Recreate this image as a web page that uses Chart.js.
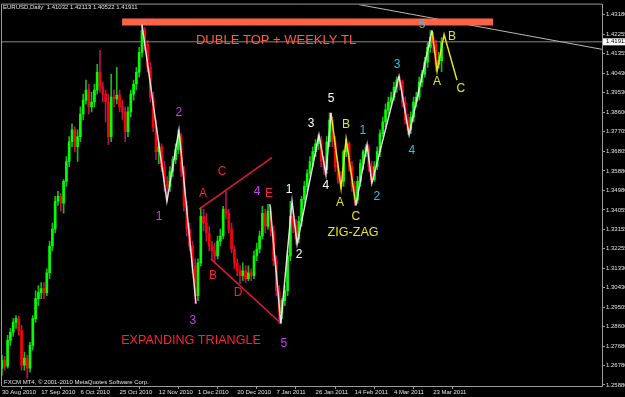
<!DOCTYPE html>
<html>
<head>
<meta charset="utf-8">
<title>EURUSD Daily</title>
<script src="https://cdn.jsdelivr.net/npm/chart.js@4.4.1/dist/chart.umd.min.js"></script>
<style>
  html, body { margin: 0; padding: 0; background: #000; }
  #wrap { width: 625px; height: 397px; }
</style>
</head>
<body>
<div id="wrap"><canvas id="eurusdChart" width="625" height="397"></canvas></div>
<script>
// daily EURUSD bars, 30 Aug 2010 .. 28 Mar 2011 (bar index 0..157)
const opens = [
  1.2666, 1.2704, 1.2676, 1.2796, 1.2834, 1.2880, 1.2898, 1.2843, 1.2680, 1.2713,
  1.2666, 1.2773, 1.2898, 1.2991, 1.3019, 1.3038, 1.3019, 1.3112, 1.3237, 1.3316,
  1.3446, 1.3469, 1.3437, 1.3539, 1.3632, 1.3724, 1.3780, 1.3701, 1.3748, 1.3854,
  1.3919, 1.3966, 1.3887, 1.3910, 1.3966, 1.4049, 1.3980, 1.3947, 1.3910, 1.3748,
  1.3933, 1.3924, 1.3942, 1.3887, 1.3864, 1.3771, 1.3864, 1.3947, 1.3994, 1.4049,
  1.4142, 1.4244, 1.4179, 1.4072, 1.3933, 1.3794, 1.3678, 1.3701, 1.3608, 1.3539,
  1.3516, 1.3585, 1.3641, 1.3687, 1.3748, 1.3585, 1.3423, 1.3316, 1.3237, 1.3144,
  1.3005, 1.3158, 1.3376, 1.3344, 1.3298, 1.3237, 1.3214, 1.3191, 1.3260, 1.3284,
  1.3409, 1.3390, 1.3316, 1.3223, 1.3158, 1.3121, 1.3098, 1.3121, 1.3084, 1.3112,
  1.3098, 1.3191, 1.3223, 1.3284, 1.3390, 1.3330, 1.3400, 1.3307, 1.3168, 1.3028,
  1.2926, 1.2982, 1.3028, 1.3191, 1.3376, 1.3330, 1.3270, 1.3353, 1.3455, 1.3516,
  1.3576, 1.3632, 1.3678, 1.3715, 1.3734, 1.3632, 1.3594, 1.3724, 1.3826, 1.3724,
  1.3608, 1.3548, 1.3539, 1.3678, 1.3715, 1.3608, 1.3516, 1.3455, 1.3539, 1.3622,
  1.3678, 1.3697, 1.3608, 1.3548, 1.3608, 1.3678, 1.3762, 1.3817, 1.3873, 1.3910,
  1.3933, 1.3980, 1.4012, 1.4003, 1.3910, 1.3826, 1.3780, 1.3840, 1.3910, 1.3933,
  1.4003, 1.4040, 1.4096, 1.4165, 1.4212, 1.4179, 1.4086, 1.41032
];
const highs = [
  1.2727, 1.2722, 1.2820, 1.2852, 1.2898, 1.2912, 1.2908, 1.2866, 1.2741, 1.2727,
  1.2787, 1.2912, 1.3028, 1.3052, 1.3066, 1.3066, 1.3130, 1.3260, 1.3344, 1.3469,
  1.3492, 1.3483, 1.3548, 1.3655, 1.3748, 1.3808, 1.3794, 1.3780, 1.3887, 1.3947,
  1.4012, 1.3994, 1.3956, 1.3994, 1.4086, 1.4151, 1.4003, 1.3966, 1.3947, 1.4040,
  1.3966, 1.4072, 1.3966, 1.3919, 1.3887, 1.3887, 1.3966, 1.4012, 1.4072, 1.4165,
  1.4272, 1.4258, 1.4198, 1.4096, 1.3956, 1.3826, 1.3724, 1.3715, 1.3632, 1.3562,
  1.3608, 1.3655, 1.3715, 1.3780, 1.3762, 1.3608, 1.3446, 1.3344, 1.3260, 1.3177,
  1.3177, 1.3418, 1.3409, 1.3390, 1.3330, 1.3260, 1.3251, 1.3284, 1.3316, 1.3423,
  1.3492, 1.3409, 1.3344, 1.3237, 1.3177, 1.3144, 1.3158, 1.3144, 1.3144, 1.3130,
  1.3214, 1.3251, 1.3307, 1.3423, 1.3409, 1.3432, 1.3418, 1.3330, 1.3191, 1.3052,
  1.2991, 1.3052, 1.3214, 1.3446, 1.3400, 1.3362, 1.3376, 1.3469, 1.3539, 1.3594,
  1.3655, 1.3701, 1.3734, 1.3757, 1.3748, 1.3655, 1.3748, 1.3859, 1.3840, 1.3748,
  1.3632, 1.3585, 1.3687, 1.3738, 1.3724, 1.3632, 1.3539, 1.3562, 1.3641, 1.3687,
  1.3710, 1.3710, 1.3632, 1.3632, 1.3701, 1.3780, 1.3840, 1.3901, 1.3933, 1.3956,
  1.4003, 1.4026, 1.4031, 1.4012, 1.3933, 1.3854, 1.3864, 1.3933, 1.3956, 1.4026,
  1.4058, 1.4119, 1.4188, 1.4244, 1.4235, 1.4198, 1.4142, 1.42113
];
const lows = [
  1.2634, 1.2657, 1.2666, 1.2773, 1.2815, 1.2852, 1.2820, 1.2657, 1.2657, 1.2620,
  1.2648, 1.2750, 1.2880, 1.2959, 1.2991, 1.2991, 1.3005, 1.3084, 1.3214, 1.3298,
  1.3427, 1.3400, 1.3390, 1.3516, 1.3608, 1.3701, 1.3678, 1.3632, 1.3724, 1.3826,
  1.3901, 1.3854, 1.3864, 1.3887, 1.3947, 1.3956, 1.3910, 1.3817, 1.3710, 1.3724,
  1.3887, 1.3901, 1.3864, 1.3826, 1.3724, 1.3748, 1.3840, 1.3919, 1.3966, 1.4026,
  1.4119, 1.4151, 1.4049, 1.3910, 1.3771, 1.3641, 1.3622, 1.3585, 1.3492, 1.3446,
  1.3492, 1.3562, 1.3622, 1.3669, 1.3562, 1.3400, 1.3284, 1.3214, 1.3112, 1.2968,
  1.2982, 1.3144, 1.3307, 1.3260, 1.3214, 1.3177, 1.3158, 1.3177, 1.3237, 1.3270,
  1.3362, 1.3298, 1.3205, 1.3130, 1.3098, 1.3061, 1.3075, 1.3066, 1.3075, 1.3075,
  1.3084, 1.3168, 1.3205, 1.3270, 1.3298, 1.3316, 1.3284, 1.3144, 1.3005, 1.2875,
  1.2898, 1.2959, 1.3005, 1.3168, 1.3298, 1.3246, 1.3251, 1.3330, 1.3437, 1.3492,
  1.3562, 1.3608, 1.3655, 1.3687, 1.3608, 1.3571, 1.3576, 1.3701, 1.3701, 1.3585,
  1.3530, 1.3506, 1.3516, 1.3655, 1.3585, 1.3492, 1.3427, 1.3437, 1.3516, 1.3594,
  1.3655, 1.3585, 1.3530, 1.3539, 1.3594, 1.3655, 1.3748, 1.3794, 1.3854, 1.3887,
  1.3919, 1.3956, 1.3966, 1.3887, 1.3808, 1.3757, 1.3762, 1.3817, 1.3887, 1.3919,
  1.3980, 1.4026, 1.4072, 1.4142, 1.4142, 1.4054, 1.4068, 1.40522
];
const closes = [
  1.2704, 1.2676, 1.2796, 1.2834, 1.2880, 1.2898, 1.2843, 1.2680, 1.2713, 1.2666,
  1.2773, 1.2898, 1.2991, 1.3019, 1.3038, 1.3019, 1.3112, 1.3237, 1.3316, 1.3446,
  1.3469, 1.3437, 1.3539, 1.3632, 1.3724, 1.3780, 1.3701, 1.3748, 1.3854, 1.3919,
  1.3966, 1.3887, 1.3910, 1.3966, 1.4049, 1.3980, 1.3947, 1.3910, 1.3748, 1.3933,
  1.3924, 1.3942, 1.3887, 1.3864, 1.3771, 1.3864, 1.3947, 1.3994, 1.4049, 1.4142,
  1.4244, 1.4179, 1.4072, 1.3933, 1.3794, 1.3678, 1.3701, 1.3608, 1.3539, 1.3516,
  1.3585, 1.3641, 1.3687, 1.3748, 1.3585, 1.3423, 1.3316, 1.3237, 1.3144, 1.3005,
  1.3158, 1.3376, 1.3344, 1.3298, 1.3237, 1.3214, 1.3191, 1.3260, 1.3284, 1.3409,
  1.3390, 1.3316, 1.3223, 1.3158, 1.3121, 1.3098, 1.3121, 1.3084, 1.3112, 1.3098,
  1.3191, 1.3223, 1.3284, 1.3390, 1.3330, 1.3400, 1.3307, 1.3168, 1.3028, 1.2926,
  1.2982, 1.3028, 1.3191, 1.3376, 1.3330, 1.3270, 1.3353, 1.3455, 1.3516, 1.3576,
  1.3632, 1.3678, 1.3715, 1.3734, 1.3632, 1.3594, 1.3724, 1.3826, 1.3724, 1.3608,
  1.3548, 1.3539, 1.3678, 1.3715, 1.3608, 1.3516, 1.3455, 1.3539, 1.3622, 1.3678,
  1.3697, 1.3608, 1.3548, 1.3608, 1.3678, 1.3762, 1.3817, 1.3873, 1.3910, 1.3933,
  1.3980, 1.4012, 1.4003, 1.3910, 1.3826, 1.3780, 1.3840, 1.3910, 1.3933, 1.4003,
  1.4040, 1.4096, 1.4165, 1.4212, 1.4179, 1.4086, 1.41032, 1.41911
];

// axis ticks
const priceTicks = [1.2588, 1.2678, 1.2768, 1.286, 1.29505, 1.3043, 1.3133, 1.32255, 1.33155, 1.34055,
  1.3498, 1.3588, 1.36805, 1.37705, 1.386, 1.3953, 1.4043, 1.41355, 1.42255, 1.4318];
const dateTicks = [0, 14, 28, 42, 56, 70, 84, 98, 112, 126, 140, 154];
const dateLabels = ["30 Aug 2010", "17 Sep 2010", "6 Oct 2010", "25 Oct 2010", "12 Nov 2010", "1 Dec 2010",
  "20 Dec 2010", "7 Jan 2011", "26 Jan 2011", "14 Feb 2011", "4 Mar 2011", "23 Mar 2011"];

// wave counts drawn on the chart: [bar index, price]
const waveDown = [[50, 1.4272], [58.9, 1.3446], [63.2, 1.378], [69.3, 1.2968]];
const waveE5 = [[95.7, 1.3432], [99.6, 1.2875]];
const waveUp1 = [[99.6, 1.2875], [103.6, 1.3446], [105.4, 1.3246], [113.2, 1.3757], [115.7, 1.3571], [117.5, 1.3859]];
const zigZag = [[117.5, 1.3859], [121.1, 1.3506], [122.9, 1.3738], [126.4, 1.3427]];
const waveUp2 = [[126.4, 1.3427], [130.4, 1.371], [132.1, 1.353], [141.8, 1.4031], [145.4, 1.3757], [153.6, 1.4244]];
const abcTop = [[153.6, 1.4244], [155.4, 1.4054], [157.9, 1.4225], [162.5, 1.4012]];
const triUpper = [[70.4, 1.3409], [96.4, 1.365]];
const triLower = [[74.6, 1.3177], [99.3, 1.288]];
const doubleTop = [[42.9, 1.4284], [175.4, 1.4284]];
const weeklyTL = [[127.5, 1.4365], [214.3, 1.4156]];
const lastPrice = 1.41911;

// labels: [text, bar index, price]
const magentaLabels = [["1", 56.1, 1.3376], ["2", 63.2, 1.3859], ["3", 68.2, 1.2889], ["4", 91.1, 1.3492], ["5", 100.7, 1.2783]];
const redLabels = [["A", 71.8, 1.3483], ["B", 75.4, 1.3098], ["C", 78.6, 1.3585], ["D", 84.3, 1.3019], ["E", 95.4, 1.3483]];
const whiteLabels = [["1", 102.5, 1.3502], ["2", 106.1, 1.3196], ["3", 110.4, 1.3808], ["4", 115.7, 1.352], ["5", 117.5, 1.3924]];
const yellowLabels = [["A", 120.7, 1.3441], ["B", 122.9, 1.3803], ["C", 126.4, 1.3372],
  ["A", 155.4, 1.4003], ["B", 160.7, 1.4216], ["C", 163.9, 1.397]];
const cyanLabels = [["1", 128.9, 1.3775], ["2", 133.9, 1.3469], ["3", 141.1, 1.4082], ["4", 146.4, 1.3683], ["5", 150, 1.4272]];
const captions = [
  ["DUBLE TOP + WEEKLY TL", 97.9, 1.4196, "#ff5a3c", 13],
  ["EXPANDING TRIANGLE", 67.5, 1.2796, "#ff1f3d", 12.6],
  ["ZIG-ZAG", 125.4, 1.3298, "#e6e61e", 12.6],
];

const FONT = '"Liberation Sans", Arial, sans-serif';
const toXY = (pts) => pts.map(([x, y]) => ({ x, y }));

const isUp = closes.map((c, i) => c >= opens[i]);
const wickData = closes.map((c, i) => ({ x: i, y: [lows[i], highs[i]] }));
const bodyData = closes.map((c, i) => ({ x: i, y: [opens[i], c] }));

const lineSet = (pts, color, width) => ({
  type: "line",
  data: toXY(pts),
  borderColor: color,
  borderWidth: width,
  pointRadius: 0,
  tension: 0,
  fill: false,
  order: 0,
});

const overlayPlugin = {
  id: "overlay",
  beforeDraw(chart) {
    const { ctx, width, height } = chart;
    ctx.save();
    ctx.fillStyle = "#000";
    ctx.fillRect(0, 0, width, height);
    ctx.restore();
  },
  afterDraw(chart) {
    const { ctx, chartArea } = chart;
    const xs = chart.scales.x;
    const ys = chart.scales.y;
    ctx.save();

    // frame top + left
    ctx.strokeStyle = "#9a9a9a";
    ctx.lineWidth = 1;
    ctx.beginPath();
    ctx.moveTo(chartArea.left - 0.5, chartArea.bottom);
    ctx.lineTo(chartArea.left - 0.5, chartArea.top - 0.5);
    ctx.lineTo(chartArea.right, chartArea.top - 0.5);
    ctx.stroke();

    ctx.textAlign = "center";
    ctx.textBaseline = "middle";
    const drawLabels = (list, color, size) => {
      ctx.fillStyle = color;
      ctx.font = `${size}px ${FONT}`;
      list.forEach(([t, i, p]) => ctx.fillText(t, xs.getPixelForValue(i), ys.getPixelForValue(p)));
    };
    drawLabels(magentaLabels, "#c93cf5", 12);
    drawLabels(redLabels, "#f0203a", 12);
    drawLabels(whiteLabels, "#ffffff", 12);
    drawLabels(yellowLabels, "#e6e61e", 12);
    drawLabels(cyanLabels, "#35bfe0", 12);
    captions.forEach(([t, i, p, color, size]) => drawLabels([[t, i, p]], color, size));

    // header + copyright
    ctx.textAlign = "left";
    ctx.fillStyle = "#e0e0e0";
    ctx.font = `6px ${FONT}`;
    ctx.fillText("EURUSD,Daily  1.41032 1.42113 1.40522 1.41911", 3, 7);
    ctx.fillText("FXCM MT4, \u00a9 2001-2010 MetaQuotes Software Corp.", 4, 382);

    // current price box on the axis
    const py = ys.getPixelForValue(lastPrice);
    ctx.fillStyle = "#ffffff";
    ctx.fillRect(chartArea.right + 1, py - 3.5, 24, 7);
    ctx.fillStyle = "#000";
    ctx.fillText(lastPrice.toFixed(5), chartArea.right + 4, py);
    ctx.restore();
  },
};

const ctx = document.getElementById("eurusdChart").getContext("2d");
new Chart(ctx, {
  type: "bar",
  data: {
    datasets: [
      lineSet(waveDown, "rgba(235,235,235,0.95)", 1.5),
      lineSet(waveE5, "rgba(235,235,235,0.95)", 1.5),
      lineSet(waveUp1, "rgba(235,235,235,0.95)", 1.5),
      lineSet(waveUp2, "rgba(235,235,235,0.95)", 1.5),
      lineSet(zigZag, "#e6e61e", 1.5),
      lineSet(abcTop, "#e6e61e", 1.5),
      lineSet(triUpper, "#e01a35", 1.5),
      lineSet(triLower, "#e01a35", 1.5),
      lineSet(doubleTop, "#ff6347", 7),
      lineSet(weeklyTL, "#b8b8b8", 1),
      lineSet([[0, lastPrice], [214.3, lastPrice]], "#8a8a8a", 1),
      {
        label: "wick",
        data: wickData,
        backgroundColor: isUp.map((u) => (u ? "#1fb51f" : "#b3125a")),
        barThickness: 1,
        grouped: false,
        order: 2,
      },
      {
        label: "body",
        data: bodyData,
        backgroundColor: isUp.map((u) => (u ? "#00ff00" : "#ff0000")),
        barThickness: 2,
        minBarLength: 1,
        grouped: false,
        order: 1,
      },
    ],
  },
  options: {
    responsive: false,
    animation: false,
    devicePixelRatio: 1,
    layout: { padding: { left: 2, top: 2, right: 0, bottom: 0 } },
    plugins: { legend: { display: false }, tooltip: { enabled: false } },
    scales: {
      x: {
        type: "linear",
        min: 0,
        max: 214.3,
        offset: false,
        afterBuildTicks: (scale) => {
          scale.ticks = dateTicks.map((v) => ({ value: v }));
        },
        afterFit: (scale) => {
          scale.height = 11;
        },
        grid: { drawOnChartArea: false, drawTicks: true, tickLength: 3, color: "#9a9a9a" },
        border: { color: "#9a9a9a" },
        ticks: {
          autoSkip: false,
          maxRotation: 0,
          align: "start",
          padding: 0,
          color: "#e0e0e0",
          font: { family: FONT, size: 6 },
          callback: (v) => dateLabels[dateTicks.indexOf(v)] || "",
        },
      },
      y: {
        position: "right",
        min: 1.2583,
        max: 1.4365,
        afterBuildTicks: (scale) => {
          scale.ticks = priceTicks.map((v) => ({ value: v }));
        },
        afterFit: (scale) => {
          scale.width = 23;
        },
        grid: { drawOnChartArea: false, drawTicks: true, tickLength: 3, color: "#9a9a9a" },
        border: { color: "#9a9a9a" },
        ticks: {
          autoSkip: false,
          padding: 1,
          color: "#e0e0e0",
          font: { family: FONT, size: 6 },
          callback: (v) => Number(v).toFixed(5),
        },
      },
    },
  },
  plugins: [overlayPlugin],
});
</script>
</body>
</html>
